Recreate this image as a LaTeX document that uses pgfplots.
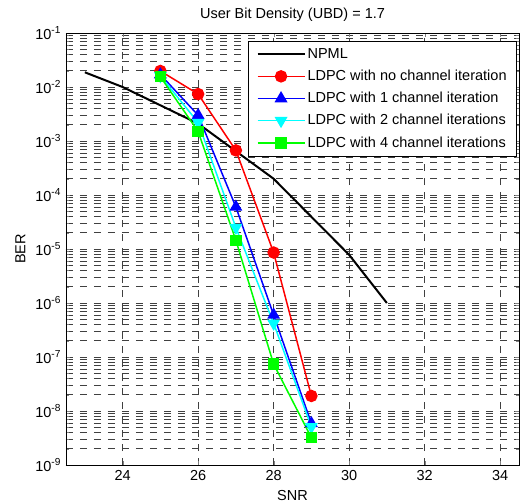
\documentclass[border=0pt]{standalone}
\usepackage{fontspec}
\setmainfont{Liberation Sans}
\usepackage{pgfplots}
\pgfplotsset{compat=1.18}

\definecolor{cyanm}{rgb}{0,1,1}
\definecolor{greenm}{rgb}{0,1,0}

\begin{document}
\fontsize{14.5bp}{17bp}\selectfont
\begin{tikzpicture}
\begin{axis}[
    scale only axis,
    width=453bp, height=432bp,
    xmin=22.5, xmax=34.5,
    ymin=1e-9, ymax=1e-1,
    ymode=log,
    xtick={24,26,...,34},
    ytick={1e-9,1e-8,1e-7,1e-6,1e-5,1e-4,1e-3,1e-2,1e-1},
    yticklabels={10\textsuperscript{-9},10\textsuperscript{-8},10\textsuperscript{-7},10\textsuperscript{-6},10\textsuperscript{-5},10\textsuperscript{-4},10\textsuperscript{-3},10\textsuperscript{-2},10\textsuperscript{-1}},
    xticklabel style={/pgf/number format/assume math mode=true},
    tick align=inside,
    grid=both,
    grid style={black!75, line width=0.8bp, dash pattern=on 7bp off 7bp},
    title={User Bit Density (UBD) = 1.7},
    xlabel={SNR},
    ylabel={BER},
    legend cell align=left,
    legend style={at={(0.9956,0.9815)}, anchor=north east, draw=black, fill=white,
                  line width=0.8bp, row sep=5.5bp, inner xsep=8bp, inner ysep=5bp},
    legend image code/.code={
        \draw[mark repeat=2,mark phase=2] plot coordinates {(0bp,0bp) (23.5bp,0bp) (47bp,0bp)};
    },
]
\addplot[black, line width=2bp] coordinates {
    (23,1.87e-2) (24,1e-2) (26,2.1e-3) (28,2e-4) (30,7.8e-6) (31,1e-6)
};
\addlegendentry{NPML}
\addplot[red, line width=1.5bp, mark=*, mark size=5.5bp, mark options={solid, fill=red}] coordinates {
    (25,1.98e-2) (26,7.4e-3) (27,6.7e-4) (28,8.6e-6) (29,1.9e-8)
};
\addlegendentry{LDPC with no channel iteration}
\addplot[blue, line width=1.5bp, mark=triangle*, mark size=6bp, mark options={solid, fill=blue}] coordinates {
    (25,1.7e-2) (26,3e-3) (27,6e-5) (28,6e-7) (29,5.9e-9)
};
\addlegendentry{LDPC with 1 channel iteration}
\addplot[cyanm, line width=1.5bp, mark=triangle*, mark size=6bp, mark options={solid, fill=cyanm, rotate=180}] coordinates {
    (25,1.6e-2) (26,2.2e-3) (27,2.5e-5) (28,4.2e-7) (29,5.1e-9)
};
\addlegendentry{LDPC with 2 channel iterations}
\addplot[greenm, line width=1.5bp, mark=square*, mark size=5bp, mark options={solid, fill=greenm}] coordinates {
    (25,1.55e-2) (26,1.5e-3) (27,1.45e-5) (28,7.4e-8) (29,3.2e-9)
};
\addlegendentry{LDPC with 4 channel iterations}
\end{axis}
\pgfresetboundingbox
\path (-66bp,-38bp) rectangle (458bp,465bp);
\end{tikzpicture}
\end{document}
